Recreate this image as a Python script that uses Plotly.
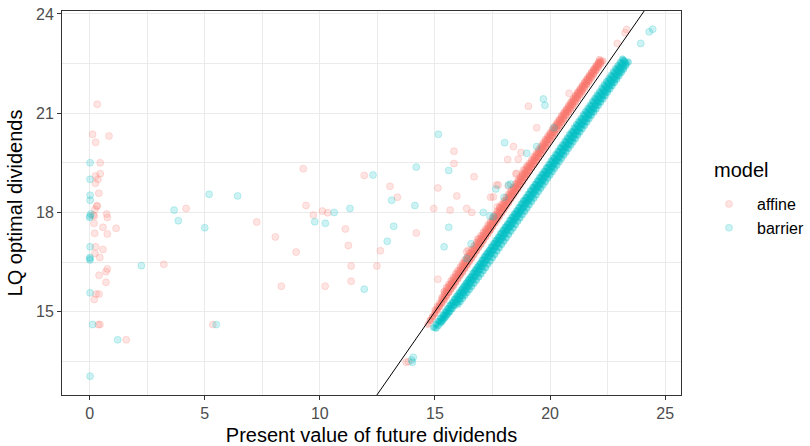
import plotly.graph_objects as go

# ---------------- data ----------------
# scattered "affine" points (x = present value, y = LQ optimal dividends)
affine_x = [0.33, 0.13, 0.84, 0.26, 0.46, 0.26, 0.46, 0.36, 0.25, 0.40, 0.33, 0.31, 0.23, 0.74, 0.77, 0.20,
            0.16, 0.19, 0.58, 1.15, 0.77, 0.22, 0.26, 0.58, 0.44, 0.23, 0.77, 0.71, 0.41, 0.71, 0.28, 0.41,
            0.20, 0.45, 0.38, 1.59,
            3.22, 4.19, 5.35, 7.26, 8.07, 8.33, 8.97, 9.28, 9.40, 9.72, 10.11, 10.34, 10.23, 11.11, 11.24,
            11.36, 11.36, 11.93, 12.48, 12.63, 13.05, 13.37, 14.19, 15.13, 15.83, 15.83, 15.95, 14.95, 15.66,
            15.13, 13.85, 13.75,
            16.38, 16.60, 17.71, 16.86, 17.39, 16.45, 16.70, 17.42, 17.75, 18.16, 18.55, 18.41, 18.74, 19.42,
            19.06, 20.83, 22.92, 23.26, 23.33, 16.38, 16.45, 16.31, 18.62, 18.84, 18.52, 18.99, 17.68, 18.19,
            17.83, 17.54]
affine_y = [21.27, 20.36, 20.31, 20.12, 19.50, 19.10, 19.17, 19.00, 18.88, 18.58, 18.20, 18.19, 18.09, 17.95, 17.85, 17.89,
            17.92, 17.67, 17.55, 17.52, 17.35, 17.37, 16.96, 16.88, 16.64, 16.76, 16.29, 16.21, 16.10, 15.89, 15.53, 15.53,
            15.37, 14.61, 14.61, 14.15,
            16.43, 18.12, 14.61, 17.71, 17.26, 15.77, 16.80, 19.32, 18.21, 17.92, 18.04, 17.99, 15.77, 17.50, 17.00,
            16.38, 15.92, 19.12, 16.38, 16.84, 18.79, 18.46, 17.38, 18.74, 19.85, 19.48, 18.50, 18.12, 18.07,
            15.98, 13.49, 13.47,
            18.12, 18.00, 18.17, 17.20, 17.47, 16.86, 19.08, 18.46, 18.83, 19.60, 19.18, 19.99, 19.81, 20.56,
            21.21, 21.60, 23.11, 23.43, 23.53, 16.81, 16.66, 16.51, 19.61, 19.28, 19.16, 19.40, 18.83, 18.80,
            18.17, 18.47]

# scattered "barrier" points
barrier_x = [0.02, 0.02, 0.02, 0.02, 0.02, 0.05, 0.00, 0.02, 0.02, 0.02, 0.00, 0.02, 0.13, 1.22, 0.02,
             2.25, 3.67, 3.85, 5.00, 5.19, 5.50, 6.43, 9.78, 10.24, 10.62, 11.31, 11.93, 12.31, 12.93, 13.12,
             13.21, 14.13, 14.19, 15.15, 15.60, 15.60, 15.40, 13.99, 14.06, 14.02,
             16.57, 16.38, 17.10, 17.39, 17.65, 18.00, 18.19, 18.29, 17.54, 18.03, 18.99, 19.42, 19.71, 19.78,
             20.17, 23.94, 24.31, 24.46]
barrier_y = [19.50, 19.00, 18.52, 18.37, 17.89, 17.95, 17.85, 16.96, 16.56, 16.64, 16.60, 15.57, 14.61, 14.15, 13.05,
             16.39, 18.07, 17.75, 17.54, 18.55, 14.61, 18.50, 17.72, 17.67, 18.00, 18.12, 15.68, 19.13, 17.13, 18.37,
             17.58, 18.21, 19.37, 20.36, 19.27, 17.55, 16.96, 13.54, 13.62, 13.47,
             17.05, 16.61, 18.00, 17.89, 18.71, 18.46, 18.83, 18.86, 17.87, 20.11, 19.79, 19.99, 21.43, 21.24,
             20.56, 23.11, 23.46, 23.54]

# dense "affine" band, read row by row along the band
affine_row1_x = [14.70, 14.90, 15.10, 15.30, 15.50, 15.70, 15.90, 16.10, 16.30, 16.50, 16.70, 16.90, 17.10,
                 17.30, 17.50, 17.70, 17.90, 18.10, 18.30, 18.50, 18.70, 18.90, 19.10, 19.30, 19.50, 19.70,
                 19.90, 20.10, 20.30, 20.50, 20.70, 20.90, 21.10, 21.30, 21.50, 21.70, 21.90, 22.10, 22.30]
affine_row1_y = [14.62, 14.83, 15.04, 15.25, 15.46, 15.67, 15.88, 16.09, 16.30, 16.51, 16.72, 16.93, 17.14,
                 17.35, 17.56, 17.77, 17.98, 18.19, 18.40, 18.61, 18.82, 19.03, 19.24, 19.45, 19.66, 19.87,
                 20.08, 20.29, 20.50, 20.71, 20.92, 21.12, 21.33, 21.54, 21.75, 21.96, 22.17, 22.38, 22.58]
affine_row1b_x = [14.80, 15.00, 15.20, 15.40, 15.60, 15.80, 16.00, 16.20, 16.40, 16.60, 16.80, 17.00, 17.20,
                  17.40, 17.60, 17.80, 18.00, 18.20, 18.40, 18.60, 18.80, 19.00, 19.20, 19.40, 19.60, 19.80,
                  20.00, 20.20, 20.40, 20.60, 20.80, 21.00, 21.20, 21.40, 21.60, 21.80, 22.00, 22.20]
affine_row1b_y = [14.73, 14.93, 15.15, 15.35, 15.57, 15.77, 15.99, 16.19, 16.41, 16.61, 16.83, 17.03, 17.25,
                  17.45, 17.67, 17.87, 18.09, 18.29, 18.51, 18.71, 18.93, 19.13, 19.35, 19.55, 19.77, 19.97,
                  20.19, 20.39, 20.61, 20.81, 21.03, 21.22, 21.44, 21.64, 21.86, 22.06, 22.28, 22.48]
affine_row2_x = [15.40, 15.60, 15.80, 16.00, 16.20, 16.40, 16.60, 16.80, 17.00, 17.20, 17.40, 17.60, 17.80,
                 18.00, 18.20, 18.40, 18.60, 18.80, 19.00, 19.20, 19.40, 19.60, 19.80, 20.00, 20.20, 20.40,
                 20.60, 20.80, 21.00, 21.20, 21.40, 21.60, 21.80, 22.00, 22.15]
affine_row2_y = [15.62, 15.83, 16.04, 16.25, 16.46, 16.67, 16.88, 17.09, 17.30, 17.51, 17.72, 17.93, 18.14,
                 18.35, 18.56, 18.76, 18.97, 19.18, 19.38, 19.59, 19.79, 20.00, 20.21, 20.41, 20.62, 20.82,
                 21.03, 21.23, 21.44, 21.64, 21.84, 22.04, 22.24, 22.44, 22.62]
affine_row2b_x = [15.50, 15.70, 15.90, 16.10, 16.30, 16.50, 16.70, 16.90, 17.10, 17.30, 17.50, 17.70, 17.90,
                  18.10, 18.30, 18.50, 18.70, 18.90, 19.10, 19.30, 19.50, 19.70, 19.90, 20.10, 20.30, 20.50,
                  20.70, 20.90, 21.10, 21.30, 21.50, 21.70, 21.90, 22.10]
affine_row2b_y = [15.73, 15.94, 16.15, 16.36, 16.57, 16.78, 16.99, 17.20, 17.41, 17.62, 17.83, 18.04, 18.25,
                  18.46, 18.66, 18.87, 19.08, 19.28, 19.49, 19.69, 19.90, 20.11, 20.31, 20.52, 20.72, 20.93,
                  21.13, 21.34, 21.54, 21.74, 21.94, 22.14, 22.34, 22.53]
affine_row3_x = [15.00, 15.20, 15.40, 15.60, 15.80, 16.00, 16.20, 16.40, 16.60, 16.80, 17.00, 17.20, 17.40,
                 17.60, 17.80, 18.00, 18.20, 18.40, 18.60, 18.80, 19.00, 19.20, 19.40, 19.60, 19.80, 20.00,
                 20.20, 20.40, 20.60, 20.80, 21.00, 21.20, 21.40, 21.60, 21.80, 22.00, 22.20]
affine_row3_y = [15.05, 15.26, 15.47, 15.68, 15.89, 16.10, 16.31, 16.52, 16.73, 16.94, 17.15, 17.36, 17.57,
                 17.78, 17.99, 18.20, 18.41, 18.62, 18.83, 19.04, 19.24, 19.45, 19.66, 19.87, 20.08, 20.29,
                 20.50, 20.71, 20.92, 21.13, 21.34, 21.55, 21.75, 21.96, 22.17, 22.38, 22.58]
affine_row3b_x = [15.10, 15.30, 15.50, 15.70, 15.90, 16.10, 16.30, 16.50, 16.70, 16.90, 17.10, 17.30, 17.50,
                  17.70, 17.90, 18.10, 18.30, 18.50, 18.70, 18.90, 19.10, 19.30, 19.50, 19.70, 19.90, 20.10,
                  20.30, 20.50, 20.70, 20.90, 21.10, 21.30, 21.50, 21.70, 21.90, 22.10]
affine_row3b_y = [15.16, 15.37, 15.58, 15.79, 16.00, 16.21, 16.42, 16.63, 16.84, 17.05, 17.26, 17.47, 17.68,
                  17.89, 18.10, 18.31, 18.52, 18.73, 18.94, 19.14, 19.35, 19.56, 19.77, 19.98, 20.19, 20.40,
                  20.61, 20.82, 21.03, 21.24, 21.45, 21.65, 21.86, 22.07, 22.28, 22.48]
affine_row4_x = [15.30, 15.50, 15.70, 15.90, 16.10, 16.30, 16.50, 16.70, 16.90, 17.10, 17.30, 17.50, 17.70,
                 17.90, 18.10, 18.30, 18.50, 18.70, 18.90, 19.10, 19.30, 19.50, 19.70, 19.90, 20.10, 20.30,
                 20.50, 20.70, 20.90, 21.10, 21.30, 21.50, 21.70, 21.90, 22.10]
affine_row4_y = [15.43, 15.64, 15.85, 16.06, 16.27, 16.48, 16.69, 16.90, 17.11, 17.32, 17.53, 17.74, 17.95,
                 18.16, 18.37, 18.58, 18.79, 19.00, 19.21, 19.42, 19.62, 19.83, 20.04, 20.25, 20.46, 20.67,
                 20.88, 21.09, 21.29, 21.50, 21.71, 21.92, 22.12, 22.33, 22.53]
affine_row4b_x = [15.40, 15.60, 15.80, 16.00, 16.20, 16.40, 16.60, 16.80, 17.00, 17.20, 17.40, 17.60, 17.80,
                  18.00, 18.20, 18.40, 18.60, 18.80, 19.00, 19.20, 19.40, 19.60, 19.80, 20.00, 20.20, 20.40,
                  20.60, 20.80, 21.00, 21.20, 21.40, 21.60, 21.80, 22.00]
affine_row4b_y = [15.54, 15.75, 15.96, 16.17, 16.38, 16.59, 16.80, 17.01, 17.22, 17.43, 17.64, 17.85, 18.06,
                  18.27, 18.48, 18.69, 18.90, 19.11, 19.32, 19.52, 19.73, 19.94, 20.15, 20.36, 20.57, 20.78,
                  20.99, 21.19, 21.40, 21.61, 21.82, 22.02, 22.23, 22.43]
affine_row5_x = [14.80, 15.00, 15.20, 15.40, 15.60, 15.80, 16.00, 16.20, 16.40, 16.60, 16.80, 17.00, 17.20,
                 17.40, 17.60, 17.80, 18.00, 18.20, 18.40, 18.60, 18.80, 19.00, 19.20, 19.40, 19.60, 19.80,
                 20.00, 20.20, 20.40, 20.60, 20.80, 21.00, 21.20, 21.40, 21.60, 21.80, 22.00, 22.20]
affine_row5_y = [14.75, 14.96, 15.17, 15.38, 15.59, 15.80, 16.01, 16.22, 16.43, 16.64, 16.85, 17.06, 17.27,
                 17.48, 17.69, 17.90, 18.11, 18.32, 18.53, 18.74, 18.95, 19.16, 19.37, 19.58, 19.79, 20.00,
                 20.21, 20.42, 20.63, 20.84, 21.05, 21.26, 21.47, 21.68, 21.89, 22.10, 22.31, 22.52]
affine_row5b_x = [14.90, 15.10, 15.30, 15.50, 15.70, 15.90, 16.10, 16.30, 16.50, 16.70, 16.90, 17.10, 17.30,
                  17.50, 17.70, 17.90, 18.10, 18.30, 18.50, 18.70, 18.90, 19.10, 19.30, 19.50, 19.70, 19.90,
                  20.10, 20.30, 20.50, 20.70, 20.90, 21.10, 21.30, 21.50, 21.70, 21.90, 22.10]
affine_row5b_y = [14.86, 15.07, 15.28, 15.49, 15.70, 15.91, 16.12, 16.33, 16.54, 16.75, 16.96, 17.17, 17.38,
                  17.59, 17.80, 18.01, 18.22, 18.43, 18.64, 18.85, 19.06, 19.27, 19.48, 19.69, 19.90, 20.11,
                  20.32, 20.53, 20.74, 20.95, 21.16, 21.37, 21.58, 21.79, 22.00, 22.21, 22.42]

# dense "barrier" band, read row by row along the band
barrier_row1_x = [14.95, 15.15, 15.35, 15.55, 15.75, 15.95, 16.15, 16.35, 16.55, 16.75, 16.95, 17.15, 17.35,
                  17.55, 17.75, 17.95, 18.15, 18.35, 18.55, 18.75, 18.95, 19.15, 19.35, 19.55, 19.75, 19.95,
                  20.15, 20.35, 20.55, 20.75, 20.95, 21.15, 21.35, 21.55, 21.75, 21.95, 22.15, 22.35, 22.55,
                  22.75, 22.95, 23.15]
barrier_row1_y = [14.52, 14.71, 14.90, 15.09, 15.28, 15.47, 15.66, 15.86, 16.05, 16.26, 16.45, 16.66, 16.85,
                  17.06, 17.25, 17.46, 17.65, 17.86, 18.05, 18.26, 18.45, 18.66, 18.85, 19.06, 19.25, 19.46,
                  19.65, 19.86, 20.05, 20.26, 20.45, 20.66, 20.85, 21.06, 21.25, 21.46, 21.65, 21.86, 22.05,
                  22.25, 22.44, 22.64]
barrier_row1b_x = [15.05, 15.25, 15.45, 15.65, 15.85, 16.05, 16.25, 16.45, 16.65, 16.85, 17.05, 17.25, 17.45,
                   17.65, 17.85, 18.05, 18.25, 18.45, 18.65, 18.85, 19.05, 19.25, 19.45, 19.65, 19.85, 20.05,
                   20.25, 20.45, 20.65, 20.85, 21.05, 21.25, 21.45, 21.65, 21.85, 22.05, 22.25, 22.45, 22.65,
                   22.85, 23.05]
barrier_row1b_y = [14.62, 14.81, 15.00, 15.19, 15.38, 15.57, 15.76, 15.96, 16.16, 16.36, 16.56, 16.76, 16.96,
                   17.16, 17.36, 17.56, 17.76, 17.96, 18.16, 18.36, 18.56, 18.76, 18.96, 19.16, 19.36, 19.56,
                   19.76, 19.96, 20.16, 20.36, 20.56, 20.76, 20.96, 21.16, 21.36, 21.56, 21.76, 21.96, 22.15,
                   22.35, 22.54]
barrier_row2_x = [15.05, 15.25, 15.45, 15.65, 15.85, 16.05, 16.25, 16.45, 16.65, 16.85, 17.05, 17.25, 17.45,
                  17.65, 17.85, 18.05, 18.25, 18.45, 18.65, 18.85, 19.05, 19.25, 19.45, 19.65, 19.85, 20.05,
                  20.25, 20.45, 20.65, 20.85, 21.05, 21.25, 21.45, 21.65, 21.85, 22.05, 22.25, 22.45, 22.65,
                  22.85, 23.05, 23.25]
barrier_row2_y = [14.50, 14.66, 14.83, 15.00, 15.18, 15.37, 15.56, 15.76, 15.96, 16.16, 16.36, 16.56, 16.76,
                  16.96, 17.16, 17.36, 17.56, 17.76, 17.96, 18.16, 18.36, 18.56, 18.76, 18.96, 19.16, 19.36,
                  19.56, 19.76, 19.96, 20.16, 20.36, 20.56, 20.76, 20.96, 21.16, 21.36, 21.56, 21.76, 21.96,
                  22.16, 22.36, 22.56]
barrier_row2b_x = [15.15, 15.35, 15.55, 15.75, 15.95, 16.15, 16.35, 16.55, 16.75, 16.95, 17.15, 17.35, 17.55,
                   17.75, 17.95, 18.15, 18.35, 18.55, 18.75, 18.95, 19.15, 19.35, 19.55, 19.75, 19.95, 20.15,
                   20.35, 20.55, 20.75, 20.95, 21.15, 21.35, 21.55, 21.75, 21.95, 22.15, 22.35, 22.55, 22.75,
                   22.95, 23.15]
barrier_row2b_y = [14.58, 14.75, 14.92, 15.09, 15.28, 15.47, 15.66, 15.86, 16.06, 16.26, 16.46, 16.66, 16.86,
                   17.06, 17.26, 17.46, 17.66, 17.86, 18.06, 18.26, 18.46, 18.66, 18.86, 19.06, 19.26, 19.46,
                   19.66, 19.86, 20.06, 20.26, 20.46, 20.66, 20.86, 21.06, 21.26, 21.46, 21.66, 21.86, 22.06,
                   22.26, 22.46]
barrier_row3_x = [16.00, 16.20, 16.40, 16.60, 16.80, 17.00, 17.20, 17.40, 17.60, 17.80, 18.00, 18.20, 18.40,
                  18.60, 18.80, 19.00, 19.20, 19.40, 19.60, 19.80, 20.00, 20.20, 20.40, 20.60, 20.80, 21.00,
                  21.20, 21.40, 21.60, 21.80, 22.00, 22.20, 22.40, 22.60, 22.80, 23.00, 23.20, 23.40]
barrier_row3_y = [15.22, 15.40, 15.58, 15.76, 15.95, 16.14, 16.33, 16.53, 16.73, 16.93, 17.13, 17.33, 17.53,
                  17.73, 17.93, 18.13, 18.33, 18.53, 18.73, 18.93, 19.13, 19.33, 19.53, 19.73, 19.93, 20.13,
                  20.33, 20.53, 20.73, 20.93, 21.13, 21.33, 21.53, 21.73, 21.93, 22.13, 22.33, 22.55]
barrier_row3b_x = [16.10, 16.30, 16.50, 16.70, 16.90, 17.10, 17.30, 17.50, 17.70, 17.90, 18.10, 18.30, 18.50,
                   18.70, 18.90, 19.10, 19.30, 19.50, 19.70, 19.90, 20.10, 20.30, 20.50, 20.70, 20.90, 21.10,
                   21.30, 21.50, 21.70, 21.90, 22.10, 22.30, 22.50, 22.70, 22.90, 23.10, 23.30]
barrier_row3b_y = [15.31, 15.49, 15.67, 15.86, 16.05, 16.24, 16.43, 16.63, 16.83, 17.03, 17.23, 17.43, 17.63,
                   17.83, 18.03, 18.23, 18.43, 18.63, 18.83, 19.03, 19.23, 19.43, 19.63, 19.83, 20.03, 20.23,
                   20.43, 20.63, 20.83, 21.03, 21.23, 21.43, 21.63, 21.83, 22.03, 22.23, 22.44]
barrier_row4_x = [15.30, 15.50, 15.70, 15.90, 16.10, 16.30, 16.50, 16.70, 16.90, 17.10, 17.30, 17.50, 17.70,
                  17.90, 18.10, 18.30, 18.50, 18.70, 18.90, 19.10, 19.30, 19.50, 19.70, 19.90, 20.10, 20.30,
                  20.50, 20.70, 20.90, 21.10, 21.30, 21.50, 21.70, 21.90, 22.10, 22.30, 22.50, 22.70, 22.90,
                  23.10, 23.30]
barrier_row4_y = [14.70, 14.89, 15.09, 15.28, 15.48, 15.67, 15.87, 16.06, 16.26, 16.45, 16.65, 16.84, 17.04,
                  17.23, 17.43, 17.62, 17.82, 18.01, 18.21, 18.40, 18.60, 18.79, 18.99, 19.18, 19.38, 19.57,
                  19.77, 19.96, 20.16, 20.35, 20.55, 20.74, 20.94, 21.13, 21.33, 21.52, 21.72, 21.91, 22.11,
                  22.30, 22.50]
barrier_row4b_x = [15.40, 15.60, 15.80, 16.00, 16.20, 16.40, 16.60, 16.80, 17.00, 17.20, 17.40, 17.60, 17.80,
                   18.00, 18.20, 18.40, 18.60, 18.80, 19.00, 19.20, 19.40, 19.60, 19.80, 20.00, 20.20, 20.40,
                   20.60, 20.80, 21.00, 21.20, 21.40, 21.60, 21.80, 22.00, 22.20, 22.40, 22.60, 22.80, 23.00,
                   23.20]
barrier_row4b_y = [14.80, 14.99, 15.19, 15.38, 15.58, 15.77, 15.97, 16.16, 16.36, 16.55, 16.75, 16.94, 17.14,
                   17.33, 17.53, 17.72, 17.92, 18.11, 18.31, 18.50, 18.70, 18.89, 19.09, 19.28, 19.48, 19.67,
                   19.87, 20.06, 20.26, 20.45, 20.65, 20.84, 21.04, 21.23, 21.43, 21.62, 21.82, 22.01, 22.21,
                   22.40]
barrier_row5_x = [15.20, 15.40, 15.60, 15.80, 16.00, 16.20, 16.40, 16.60, 16.80, 17.00, 17.20, 17.40, 17.60,
                  17.80, 18.00, 18.20, 18.40, 18.60, 18.80, 19.00, 19.20, 19.40, 19.60, 19.80, 20.00, 20.20,
                  20.40, 20.60, 20.80, 21.00, 21.20, 21.40, 21.60, 21.80, 22.00, 22.20, 22.40, 22.60, 22.80,
                  23.00, 23.20]
barrier_row5_y = [14.70, 14.90, 15.10, 15.29, 15.49, 15.69, 15.89, 16.08, 16.28, 16.48, 16.68, 16.87, 17.07,
                  17.27, 17.47, 17.66, 17.86, 18.06, 18.26, 18.45, 18.65, 18.85, 19.05, 19.24, 19.44, 19.64,
                  19.84, 20.03, 20.23, 20.43, 20.63, 20.82, 21.02, 21.22, 21.42, 21.61, 21.81, 22.01, 22.21,
                  22.40, 22.60]
barrier_row5b_x = [15.30, 15.50, 15.70, 15.90, 16.10, 16.30, 16.50, 16.70, 16.90, 17.10, 17.30, 17.50, 17.70,
                   17.90, 18.10, 18.30, 18.50, 18.70, 18.90, 19.10, 19.30, 19.50, 19.70, 19.90, 20.10, 20.30,
                   20.50, 20.70, 20.90, 21.10, 21.30, 21.50, 21.70, 21.90, 22.10, 22.30, 22.50, 22.70, 22.90,
                   23.10]
barrier_row5b_y = [14.80, 15.00, 15.20, 15.39, 15.59, 15.79, 15.99, 16.18, 16.38, 16.58, 16.78, 16.97, 17.17,
                   17.37, 17.57, 17.76, 17.96, 18.16, 18.36, 18.55, 18.75, 18.95, 19.15, 19.34, 19.54, 19.74,
                   19.94, 20.13, 20.33, 20.53, 20.73, 20.92, 21.12, 21.32, 21.52, 21.71, 21.91, 22.11, 22.31,
                   22.50]

abline_intercept = 0.0
abline_slope = 1.0

x_ticks = [0, 5, 10, 15, 20, 25]
x_minor = [2.5, 7.5, 12.5, 17.5, 22.5]
y_ticks = [15, 18, 21, 24]
y_minor = [13.5, 16.5, 19.5, 22.5]
x_range = [-1.20, 25.69]
y_range = [12.48, 24.09]
legend_title = "model"
series_names = ["affine", "barrier"]

# ---------------- figure ----------------
RED = "248,118,109"
TEAL = "0,191,196"
FONT = "Liberation Sans, Arial, sans-serif"

affine_band_x = (affine_row1_x + affine_row1b_x + affine_row2_x + affine_row2b_x + affine_row3_x
                 + affine_row3b_x + affine_row4_x + affine_row4b_x + affine_row5_x + affine_row5b_x)
affine_band_y = (affine_row1_y + affine_row1b_y + affine_row2_y + affine_row2b_y + affine_row3_y
                 + affine_row3b_y + affine_row4_y + affine_row4b_y + affine_row5_y + affine_row5b_y)
barrier_band_x = (barrier_row1_x + barrier_row1b_x + barrier_row2_x + barrier_row2b_x + barrier_row3_x
                  + barrier_row3b_x + barrier_row4_x + barrier_row4b_x + barrier_row5_x + barrier_row5b_x)
barrier_band_y = (barrier_row1_y + barrier_row1b_y + barrier_row2_y + barrier_row2b_y + barrier_row3_y
                  + barrier_row3b_y + barrier_row4_y + barrier_row4b_y + barrier_row5_y + barrier_row5b_y)

fig = go.Figure()


def pts(x, y, rgb, alpha, name, show, edge=1):
    return go.Scatter(
        x=x, y=y, mode="markers", name=name, showlegend=show, legendgroup=name,
        marker=dict(size=7, color=f"rgba({rgb},{alpha})",
                    line=dict(color=f"rgba({rgb},{alpha})", width=edge)),
        hoverinfo="x+y+name",
    )


fig.add_trace(pts(affine_band_x, affine_band_y, RED, 0.42, series_names[0], False, edge=0))
fig.add_trace(pts(barrier_band_x, barrier_band_y, TEAL, 0.45, series_names[1], False, edge=0))
fig.add_trace(pts(affine_x, affine_y, RED, 0.2, series_names[0], True))
fig.add_trace(pts(barrier_x, barrier_y, TEAL, 0.2, series_names[1], True))

lx = [x_range[0] - 5, x_range[1] + 5]
ly = [abline_intercept + abline_slope * v for v in lx]
fig.add_trace(go.Scatter(x=lx, y=ly, mode="lines", line=dict(color="black", width=1),
                         showlegend=False, hoverinfo="skip"))

axis_common = dict(
    showgrid=True, gridcolor="#EBEBEB", gridwidth=1.3,
    showline=True, linecolor="#333333", linewidth=1, mirror=True,
    ticks="outside", ticklen=4, tickcolor="#333333", tickwidth=1,
    tickfont=dict(family=FONT, size=16, color="#4D4D4D"),
    zeroline=False, automargin=False,
)

fig.update_layout(
    width=810, height=446,
    margin=dict(l=62, r=129, t=11, b=51),
    paper_bgcolor="white", plot_bgcolor="white",
    font=dict(family=FONT, color="black"),
    xaxis=dict(range=x_range, tickvals=x_ticks, autorange=False,
               minor=dict(tickvals=x_minor, showgrid=True,
                          gridcolor="#EBEBEB", gridwidth=0.7, ticks=""),
               title=dict(text="Present value of future dividends", font=dict(family=FONT, size=20, color="black"),
                          standoff=8),
               **axis_common),
    yaxis=dict(range=y_range, tickvals=y_ticks, autorange=False,
               minor=dict(tickvals=y_minor, showgrid=True,
                          gridcolor="#EBEBEB", gridwidth=0.7, ticks=""),
               title=dict(text="LQ optimal dividends", font=dict(family=FONT, size=20, color="black"),
                          standoff=8),
               **axis_common),
    legend=dict(xref="container", yref="container", x=701 / 810, y=1 - 187 / 446,
                xanchor="left", yanchor="top",
                font=dict(family=FONT, size=16, color="black"),
                itemwidth=46, tracegroupgap=0, bgcolor="rgba(0,0,0,0)"),
    annotations=[dict(text=legend_title, xref="paper", yref="paper",
                      x=(712 - 62) / 619, y=1 - (170 - 11) / 384, xanchor="left", yanchor="middle",
                      showarrow=False, font=dict(family=FONT, size=20, color="black"))],
    hovermode="closest",
)

fig.write_html("out.html")
